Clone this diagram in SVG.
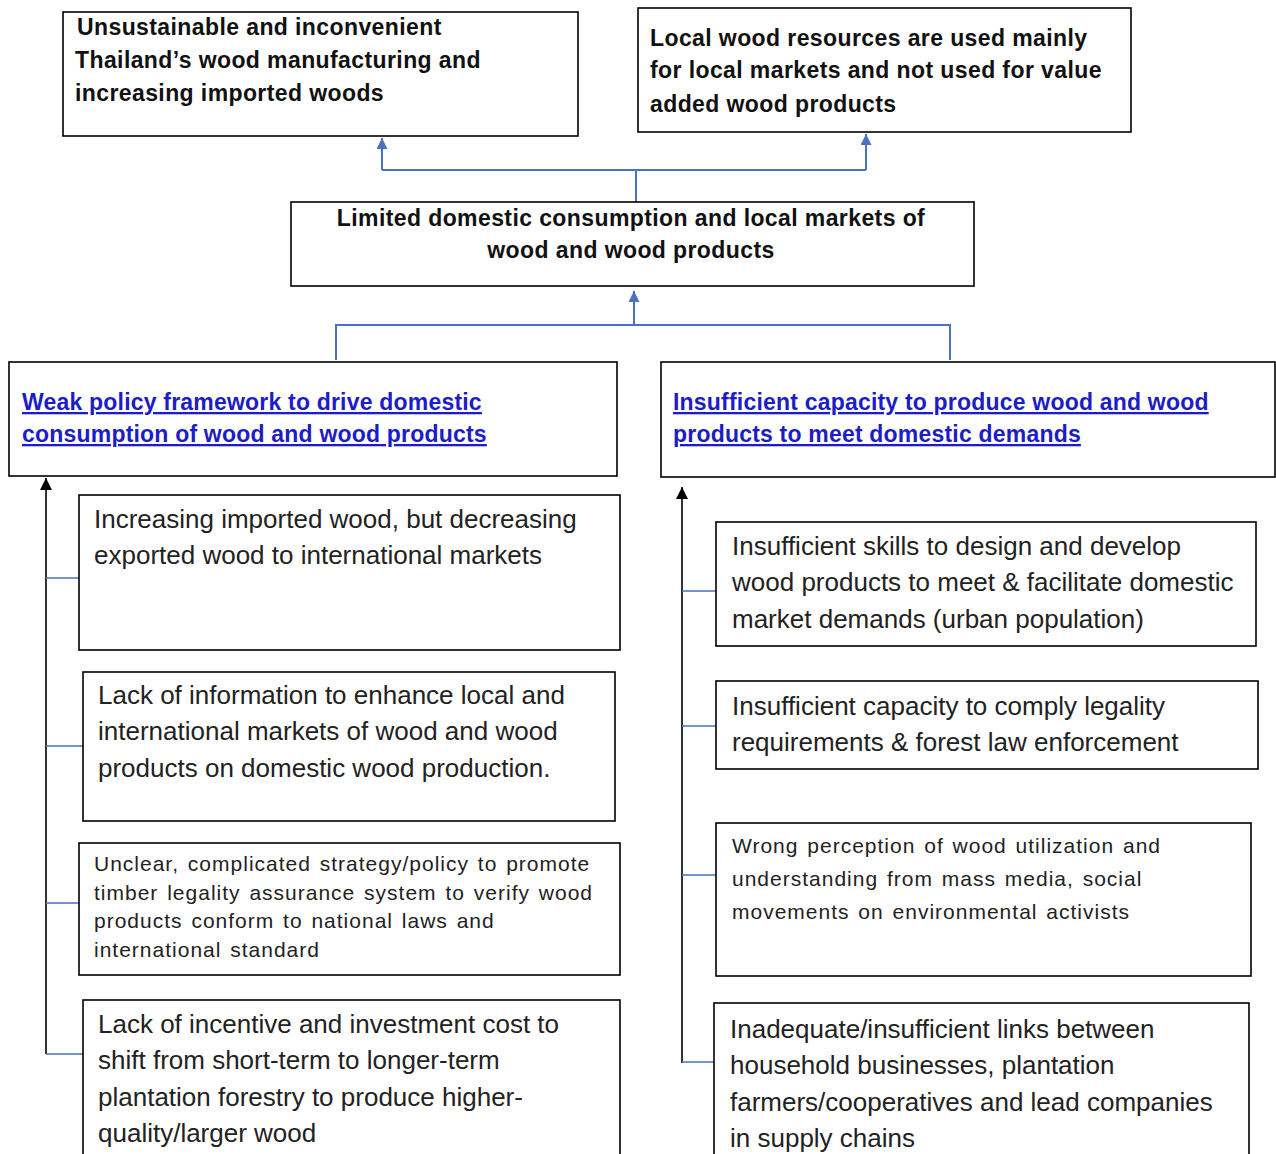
<svg xmlns="http://www.w3.org/2000/svg" width="1276" height="1154" viewBox="0 0 1276 1154">
<defs>
<style>
.box{fill:#fff;stroke:#000;stroke-width:1.6}
.b{font-family:"Liberation Sans",Arial,sans-serif;font-weight:bold;font-size:23px;fill:#111;letter-spacing:0.4px}
.h{font-family:"Liberation Sans",Arial,sans-serif;font-weight:bold;font-size:23px;fill:#1c1cc8;text-decoration:underline;letter-spacing:0.2px}
.r{font-family:"Liberation Sans",Arial,sans-serif;font-size:26px;fill:#222}
.s{font-family:"Liberation Sans",Arial,sans-serif;font-size:21px;fill:#222;letter-spacing:1px;word-spacing:2px}
.blue{stroke:#4a72c0;stroke-width:2;fill:none}
.tick{stroke:#4a72c0;stroke-width:1.3;fill:none}
.blk{stroke:#333;stroke-width:2;fill:none}
</style>
<marker id="ab" viewBox="0 0 10 10" refX="10" refY="5" markerWidth="14" markerHeight="11" orient="auto" markerUnits="userSpaceOnUse"><path d="M0,0 L10,5 L0,10 z" fill="#4a72c0"/></marker>
<marker id="ak" viewBox="0 0 10 10" refX="10" refY="5" markerWidth="14" markerHeight="12" orient="auto" markerUnits="userSpaceOnUse"><path d="M0,0 L10,5 L0,10 z" fill="#000"/></marker>
</defs>
<rect width="1276" height="1154" fill="#fff"/>
<g id="connectors">
<path class="blue" d="M636,202 V170 M382,170 H866"/>
<path class="blue" d="M382,170 V138" marker-end="url(#ab)"/>
<path class="blue" d="M866,170 V134" marker-end="url(#ab)"/>
<path class="blue" d="M336,360 V325 H950 V360"/>
<path class="blue" d="M634,325 V291" marker-end="url(#ab)"/>
<path class="blk" d="M46,1054 V478" marker-end="url(#ak)"/>
<path class="tick" d="M46,578 H79 M46,746 H83 M46,903 H79 M46,1054 H83"/>
<path class="blk" d="M682,1063 V487" marker-end="url(#ak)"/>
<path class="tick" d="M682,591 H716 M682,726 H716 M682,875 H716 M682,1062 H714"/>
</g>
<g id="n-top-left">
<rect class="box" x="63" y="12" width="515" height="124"/>
<text class="b" x="77" y="35">Unsustainable and inconvenient</text>
<text class="b" x="75" y="68">Thailand’s wood manufacturing and</text>
<text class="b" x="75" y="101">increasing imported woods</text>
</g>
<g id="n-top-right">
<rect class="box" x="638" y="8" width="493" height="124"/>
<text class="b" x="650" y="46">Local wood resources are used mainly</text>
<text class="b" x="650" y="78">for local markets and not used for value</text>
<text class="b" x="650" y="112">added wood products</text>
</g>
<g id="n-center">
<rect class="box" x="291" y="202" width="683" height="84"/>
<text class="b" x="631" y="226" text-anchor="middle">Limited domestic consumption and local markets of</text>
<text class="b" x="631" y="258" text-anchor="middle">wood and wood products</text>
</g>
<g id="n-policy">
<rect class="box" x="9" y="362" width="608" height="114"/>
<text class="h" x="22" y="410">Weak policy framework to drive domestic</text>
<text class="h" x="22" y="442">consumption of wood and wood products</text>
</g>
<g id="n-capacity">
<rect class="box" x="661" y="362" width="614" height="115"/>
<text class="h" x="673" y="410">Insufficient capacity to produce wood and wood</text>
<text class="h" x="673" y="442">products to meet domestic demands</text>
</g>
<g id="n-l1">
<rect class="box" x="79" y="495" width="541" height="155"/>
<text class="r" x="94" y="528">Increasing imported wood, but decreasing</text>
<text class="r" x="94" y="564">exported wood to international markets</text>
</g>
<g id="n-l2">
<rect class="box" x="83" y="672" width="532" height="149"/>
<text class="r" x="98" y="704">Lack of information to enhance local and</text>
<text class="r" x="98" y="740">international markets of wood and wood</text>
<text class="r" x="98" y="777">products on domestic wood production.</text>
</g>
<g id="n-l3">
<rect class="box" x="79" y="843" width="541" height="132"/>
<text class="s" x="94" y="871">Unclear, complicated strategy/policy to promote</text>
<text class="s" x="94" y="900">timber legality assurance system to verify wood</text>
<text class="s" x="94" y="928">products conform to national laws and</text>
<text class="s" x="94" y="957">international standard</text>
</g>
<g id="n-l4">
<rect class="box" x="83" y="1000" width="537" height="160"/>
<text class="r" x="98" y="1033">Lack of incentive and investment cost to</text>
<text class="r" x="98" y="1069">shift from short-term to longer-term</text>
<text class="r" x="98" y="1106">plantation forestry to produce higher-</text>
<text class="r" x="98" y="1142">quality/larger wood</text>
</g>
<g id="n-r1">
<rect class="box" x="716" y="522" width="540" height="124"/>
<text class="r" x="732" y="555">Insufficient skills to design and develop</text>
<text class="r" x="732" y="591">wood products to meet &amp; facilitate domestic</text>
<text class="r" x="732" y="628">market demands (urban population)</text>
</g>
<g id="n-r2">
<rect class="box" x="716" y="681" width="542" height="88"/>
<text class="r" x="732" y="715">Insufficient capacity to comply legality</text>
<text class="r" x="732" y="751">requirements &amp; forest law enforcement</text>
</g>
<g id="n-r3">
<rect class="box" x="716" y="823" width="535" height="153"/>
<text class="s" x="732" y="853">Wrong perception of wood utilization and</text>
<text class="s" x="732" y="886">understanding from mass media, social</text>
<text class="s" x="732" y="919">movements on environmental activists</text>
</g>
<g id="n-r4">
<rect class="box" x="714" y="1003" width="535" height="160"/>
<text class="r" x="730" y="1038">Inadequate/insufficient links between</text>
<text class="r" x="730" y="1074">household businesses, plantation</text>
<text class="r" x="730" y="1111">farmers/cooperatives and lead companies</text>
<text class="r" x="730" y="1147">in supply chains</text>
</g>
</svg>
